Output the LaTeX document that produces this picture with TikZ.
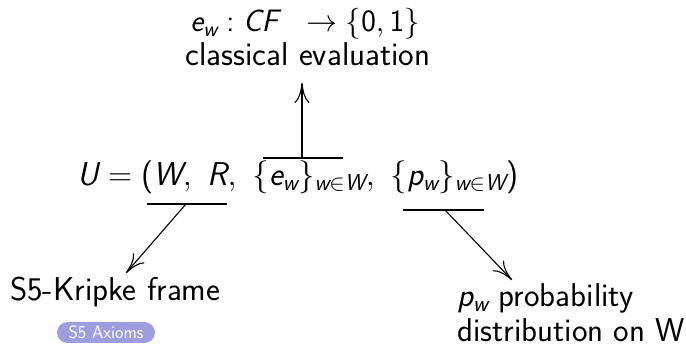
\RequirePackage{fix-cm}
\documentclass[tikz,border=0pt]{standalone}
\usetikzlibrary{arrows.meta}
\DeclareMathAlphabet{\mathsfit}{TU}{lmss}{m}{sl}
\SetSymbolFont{operators}{normal}{TU}{lmss}{m}{n}
\renewcommand\familydefault{\sfdefault}
\newcommand\sv[1]{\mathsfit{#1}}
\definecolor{pillcol}{RGB}{158,158,222}
\tikzset{
  txt/.style={inner sep=0pt, font=\fontsize{33}{40}\selectfont},
  mtxt/.style={inner sep=0pt, font=\fontsize{33}{40}\selectfont},
  ttxt/.style={inner sep=0pt, font=\fontsize{31}{37}\selectfont},
  bar/.style={line width=1.1pt},
  arr/.style={line width=1.1pt, -{Computer Modern Rightarrow[length=20pt,width=15pt]}},
  pillbox/.style={fill=pillcol, text=white, rounded corners=10.5pt, inner sep=0pt,
    minimum width=98pt, minimum height=21pt, font=\fontsize{18}{21}\selectfont}
}
\begin{document}
\begin{tikzpicture}[x=1pt,y=-1pt]
\useasboundingbox (0,0) rectangle (686,347);
\node[ttxt, anchor=base] (top1) at (305,32) {$\sv{e}_{\sv{w}} : \sv{CF}\ \ \rightarrow \{0,1\}$};
\node[txt, anchor=base] (top2) at (308,66) {classical evaluation};
\node[mtxt, anchor=base] (U) at (298,186) {$\sv{U} = (\sv{W},\ \sv{R},\ \{\sv{e}_{\sv{w}}\}_{\sv{w}\in \sv{W}},\ \{\sv{p}_{\sv{w}}\}_{\sv{w}\in \sv{W}})$};
\node[txt, anchor=base west] (kripke) at (10,301) {S5-Kripke frame};
\node[pillbox] (ax) at (106,332.5) {S5 Axioms};
\node[txt, anchor=base west] (pw) at (457,307) {$\sv{p}_{\sv{w}}$ probability};
\node[txt, anchor=base west] (dist) at (457,342) {distribution on W};
% bars
\coordinate (eb1) at (263,158); \coordinate (eb2) at (343,158); \coordinate (ebm) at (302,158);
\coordinate (etip) at (302,83);
\coordinate (wb1) at (147,204); \coordinate (wb2) at (227,204); \coordinate (wbm) at (186,204);
\coordinate (wtip) at (126,273);
\coordinate (pb1) at (403,210); \coordinate (pb2) at (484,210); \coordinate (pbm) at (445,210);
\coordinate (ptip) at (512,280);
\draw[bar] (eb1) -- (eb2);
\draw[bar] (wb1) -- (wb2);
\draw[bar] (pb1) -- (pb2);
\draw[arr] (ebm) -- (etip);
\draw[arr] (wbm) -- (wtip);
\draw[arr] (pbm) -- (ptip);
\end{tikzpicture}
\end{document}
